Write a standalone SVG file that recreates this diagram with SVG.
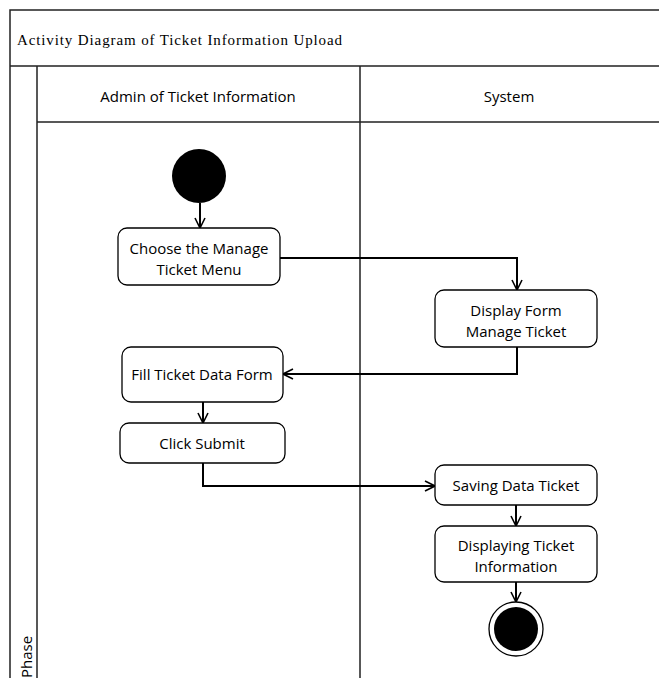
<svg xmlns="http://www.w3.org/2000/svg" width="659" height="678" viewBox="0 0 659 678">
<defs>
<style>
.frame{fill:none;stroke:#222;stroke-width:1.5}
.node rect{fill:#fff;stroke:#000;stroke-width:1.3}
.t{font-family:"Open Sans","Liberation Sans",sans-serif;font-size:15px;fill:#000;text-anchor:middle}
.conn{fill:none;stroke:#000;stroke-width:2;marker-end:url(#arr)}
</style>
<marker id="arr" viewBox="0 0 12 12" refX="11" refY="6" markerWidth="12" markerHeight="12" markerUnits="userSpaceOnUse" orient="auto">
<path d="M1,1 L11,6 L1,11" fill="none" stroke="#000" stroke-width="1.6"/>
</marker>
</defs>
<rect width="659" height="678" fill="#fff"/>
<g id="frame">
<path class="frame" d="M10,678 V10 H659 M10,66 H659 M37,122 H659 M37,66 V678 M360,66 V678"/>
<text x="17" y="45" font-family="'Liberation Serif',serif" font-size="15px" textLength="325" lengthAdjust="spacing">Activity Diagram of Ticket Information Upload</text>
<text class="t" x="198" y="102">Admin of Ticket Information</text>
<text class="t" x="509" y="102">System</text>
<text class="t" transform="translate(32,657) rotate(-90)">Phase</text>
</g>
<g id="connectors">
<path class="conn" d="M200,203 V228"/>
<path class="conn" d="M280,258 H517 V290"/>
<path class="conn" d="M517,347 V374 H283"/>
<path class="conn" d="M203,402 V423"/>
<path class="conn" d="M203,463 V486 H435"/>
<path class="conn" d="M516,505 V526"/>
<path class="conn" d="M516,582 V602"/>
</g>
<g id="start"><circle cx="199" cy="176" r="27" fill="#000"/></g>
<g id="n1" class="node"><rect x="118" y="228" width="162" height="57" rx="9"/><text class="t" x="199" y="254">Choose the Manage</text><text class="t" x="199" y="275">Ticket  Menu</text></g>
<g id="n2" class="node"><rect x="435" y="290" width="162" height="57" rx="9"/><text class="t" x="516" y="316">Display Form</text><text class="t" x="516" y="337">Manage Ticket</text></g>
<g id="n3" class="node"><rect x="122" y="347" width="161" height="55" rx="9"/><text class="t" x="202" y="380">Fill Ticket Data Form</text></g>
<g id="n4" class="node"><rect x="120" y="423" width="165" height="40" rx="9"/><text class="t" x="202" y="449">Click Submit</text></g>
<g id="n5" class="node"><rect x="435" y="465" width="162" height="40" rx="9"/><text class="t" x="516" y="491">Saving Data Ticket</text></g>
<g id="n6" class="node"><rect x="435" y="526" width="162" height="56" rx="9"/><text class="t" x="516" y="551">Displaying Ticket</text><text class="t" x="516" y="572">Information</text></g>
<g id="end"><circle cx="516" cy="629" r="27" fill="#fff" stroke="#000" stroke-width="1.3"/><circle cx="516" cy="629" r="22" fill="#000"/></g>
</svg>
